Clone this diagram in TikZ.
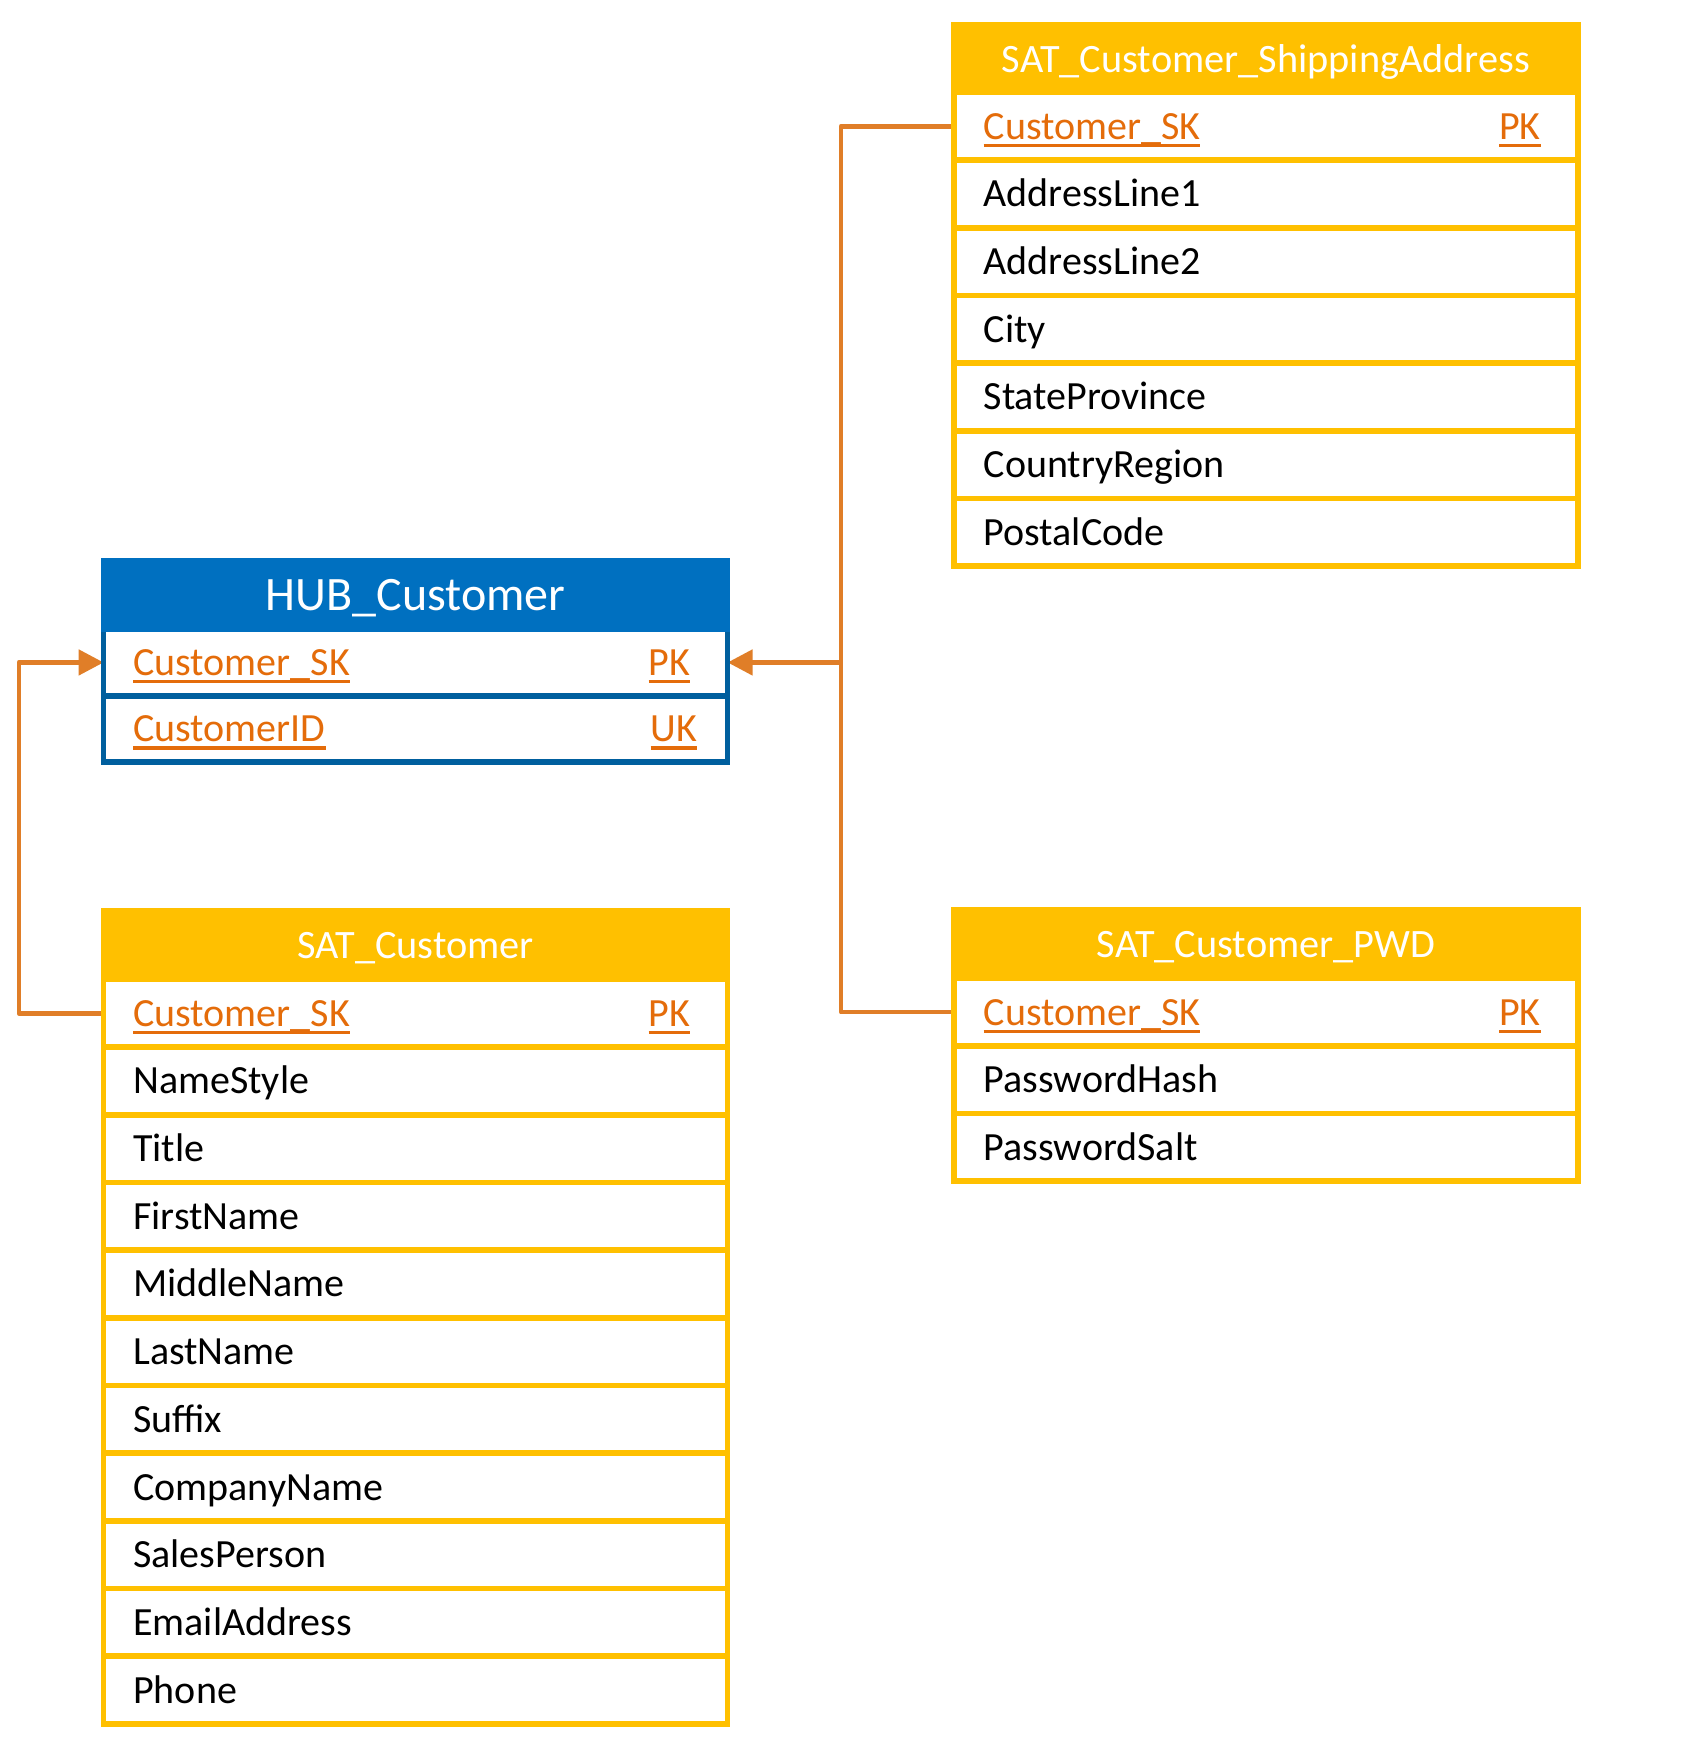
\documentclass[tikz,border=0pt]{standalone}
\usepackage{fontspec}
\setmainfont{Carlito}
\usetikzlibrary{arrows.meta}
\definecolor{ylw}{HTML}{FFC000}
\definecolor{hubblue}{HTML}{0070C0}
\definecolor{hubdark}{HTML}{005F9E}
\definecolor{keyc}{HTML}{E46C0A}
\definecolor{connc}{HTML}{E07E28}
\newcommand\rowfnt{\fontsize{40}{46}\selectfont}
\newcommand\satfnt{\fontsize{40.3}{46}\selectfont}
\newcommand\hubfnt{\fontsize{48}{54}\selectfont}
\begin{document}
\begin{tikzpicture}[x=1pt,y=-1pt,
  yrow/.style={draw=ylw, line width=5.7pt, minimum width=624pt, minimum height=67.7pt, inner sep=0pt, outer sep=0pt},
  hrow/.style={draw=hubdark, line width=5.7pt, minimum width=624pt, minimum height=66.5pt, inner sep=0pt, outer sep=0pt},
  yhdr/.style={fill=ylw, minimum width=629.7pt, inner sep=0pt, outer sep=0pt, text=white, font=\satfnt, text height=27pt, text depth=0pt},
  hhdr/.style={fill=hubblue, minimum width=629.7pt, inner sep=0pt, outer sep=0pt, text=white, font=\hubfnt, text height=30pt, text depth=0pt},
  fld/.style={anchor=west, inner sep=0pt, text height=26pt, text depth=0pt, font=\rowfnt, text=black},
  keyt/.style={anchor=west, inner sep=0pt, text height=26pt, text depth=0pt, font=\rowfnt, text=keyc,
    append after command={([yshift=-6pt]\tikzlastnode.south west) edge[draw=keyc, line width=3.4pt] ([yshift=-6pt]\tikzlastnode.south east)}},
  link/.style={draw=connc, line width=4.8pt, line join=round},
  tip/.style={-{Triangle[length=25pt,width=25pt]}}
]
\fill[white] (0,0) rectangle (1700,1741);
\useasboundingbox (0,0) rectangle (1700,1741);

% bus coordinates
\coordinate (rbus) at (841,0);
\coordinate (lbus) at (19,0);

% ---------- table rows ----------
% SAT_Customer_ShippingAddress rows
\foreach \i in {1,...,7} \node[yrow] (ship\i) at (1266,{92.3+(\i-0.5)*67.7}) {};
% HUB rows
\foreach \i in {1,2} \node[hrow] (hub\i) at (415.6,{629.2+(\i-0.5)*66.5}) {};
% SAT_Customer rows
\foreach \i in {1,...,11} \node[yrow] (sat\i) at (415.6,{979.3+(\i-0.5)*67.7}) {};
% SAT_Customer_PWD rows
\foreach \i in {1,2,3} \node[yrow] (pwd\i) at (1266,{978.2+(\i-0.5)*67.7}) {};

% ---------- connectors ----------
\draw[link] (ship1.west) -- (ship1.west -| rbus) -- (pwd1.west -| rbus) -- (pwd1.west);
\draw[link, tip] (hub1.east -| rbus) -- (hub1.east);
\draw[link, tip] (sat1.west) -- (sat1.west -| lbus) -- (hub1.west -| lbus) -- (hub1.west);

% redraw row borders above connectors
\foreach \i in {1,...,7} \draw[ylw, line width=5.7pt] (ship\i.north west) rectangle (ship\i.south east);
\foreach \i in {1,2} \draw[hubdark, line width=5.7pt] (hub\i.north west) rectangle (hub\i.south east);
\foreach \i in {1,...,11} \draw[ylw, line width=5.7pt] (sat\i.north west) rectangle (sat\i.south east);
\foreach \i in {1,2,3} \draw[ylw, line width=5.7pt] (pwd\i.north west) rectangle (pwd\i.south east);

% ---------- headers ----------
\node[yhdr, minimum height=73pt] (shipH) at (1266,58.5) {SAT\_Customer\_ShippingAddress};
\node[hhdr, minimum height=74pt] (hubH) at (415.6,595) {HUB\_Customer};
\node[yhdr, minimum height=74pt] (satH) at (415.6,945) {SAT\_Customer};
\node[yhdr, minimum height=74pt] (pwdH) at (1266,944) {SAT\_Customer\_PWD};

% ---------- key texts ----------
\node[keyt] (ship1k) at ([xshift=29.5pt]ship1.west) {Customer\_SK};
\node[keyt] (ship1p) at ([xshift=-79pt]ship1.east) {PK};
\node[keyt] (hub1k) at ([xshift=29.5pt]hub1.west) {Customer\_SK};
\node[keyt] (hub1p) at ([xshift=-79pt]hub1.east) {PK};
\node[keyt] (hub2k) at ([xshift=29.5pt]hub2.west) {CustomerID};
\node[keyt] (hub2u) at ([xshift=-77pt]hub2.east) {UK};
\node[keyt] (sat1k) at ([xshift=29.5pt]sat1.west) {Customer\_SK};
\node[keyt] (sat1p) at ([xshift=-79pt]sat1.east) {PK};
\node[keyt] (pwd1k) at ([xshift=29.5pt]pwd1.west) {Customer\_SK};
\node[keyt] (pwd1p) at ([xshift=-79pt]pwd1.east) {PK};

% ---------- field texts ----------
\foreach \t [count=\i from 2] in {AddressLine1,AddressLine2,City,StateProvince,CountryRegion,PostalCode}
  \node[fld] (shipt\i) at ([xshift=29.5pt]ship\i.west) {\t};
\foreach \t [count=\i from 2] in {NameStyle,Title,FirstName,MiddleName,LastName,Suffix,CompanyName,SalesPerson,EmailAddress,Phone}
  \node[fld] (satt\i) at ([xshift=29.5pt]sat\i.west) {\t};
\foreach \t [count=\i from 2] in {PasswordHash,PasswordSalt}
  \node[fld] (pwdt\i) at ([xshift=29.5pt]pwd\i.west) {\t};
\end{tikzpicture}
\end{document}
